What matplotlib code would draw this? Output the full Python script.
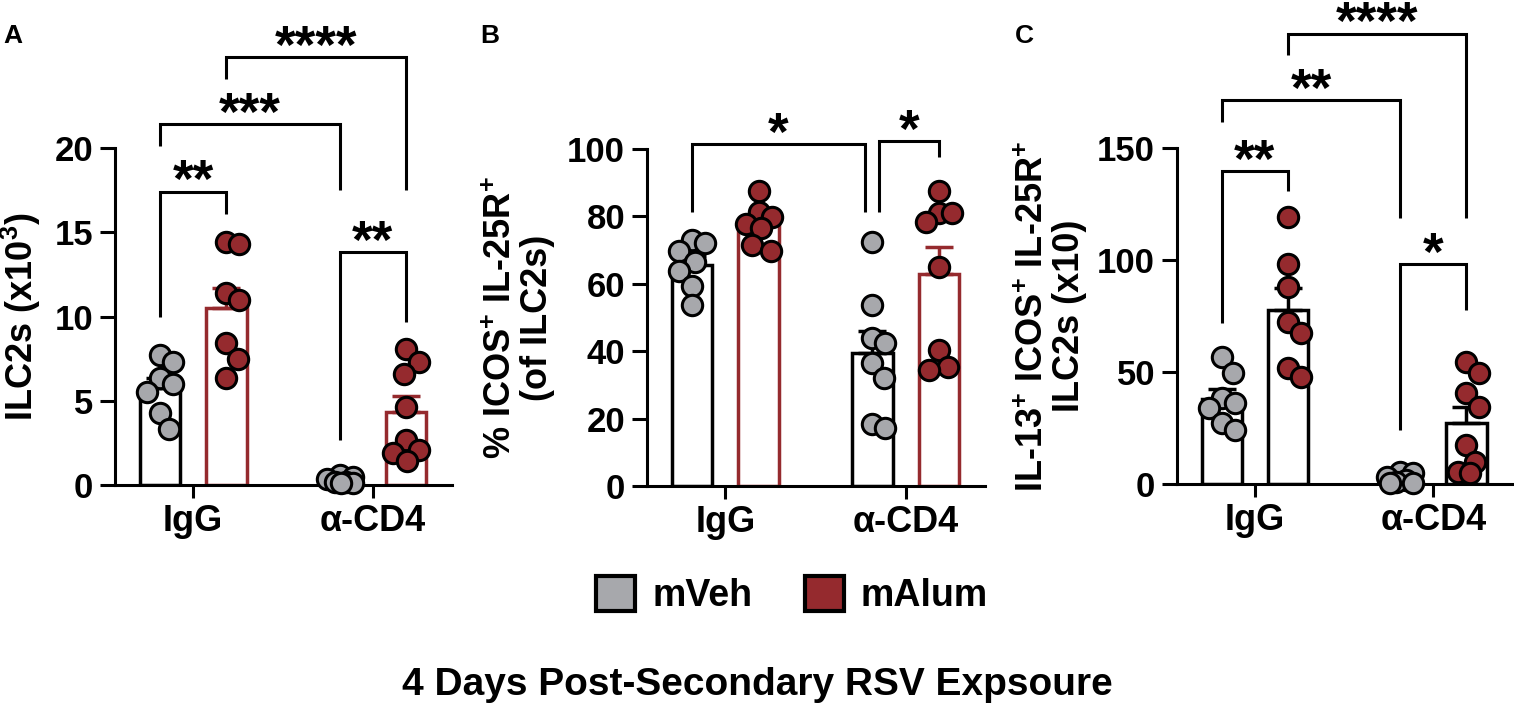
import matplotlib
matplotlib.use("Agg")
import matplotlib.pyplot as plt
from matplotlib.patches import Patch
import numpy as np

plt.rcParams["font.family"] = ["Liberation Sans", "DejaVu Sans"]
plt.rcParams["font.weight"] = "bold"
plt.rcParams["mathtext.fontset"] = "custom"
plt.rcParams["mathtext.rm"] = "Liberation Sans:bold"
plt.rcParams["mathtext.bf"] = "Liberation Sans:bold"
plt.rcParams["mathtext.default"] = "bf"

GRAY = "#a7a8ac"
RED = "#952a2e"

groups = ["IgG", "α-CD4"]
series = ["mVeh", "mAlum"]

# Panel A: ILC2s (x10^3)
a_veh_igg = [7.7, 7.3, 6.35, 6.0, 5.5, 4.3, 3.3]
a_alum_igg = [14.4, 14.3, 11.4, 11.0, 8.4, 7.5, 6.35]
a_veh_cd4 = [0.6, 0.5, 0.35, 0.2, 0.15, 0.1, 0.1]
a_alum_cd4 = [8.1, 7.3, 6.6, 4.6, 2.7, 2.1, 1.9, 1.4]

# Panel B: % ICOS+ IL-25R+ (of ILC2s)
b_veh_igg = [73.0, 72.0, 69.8, 66.5, 63.8, 59.4, 53.7]
b_alum_igg = [87.5, 81.3, 79.8, 77.7, 76.6, 71.5, 69.8]
b_veh_cd4 = [72.4, 53.7, 43.9, 42.4, 36.5, 32.0, 18.4, 17.2]
b_alum_cd4 = [87.5, 81.0, 81.0, 78.3, 65.0, 40.4, 35.3, 34.4]

# Panel C: IL-13+ ICOS+ IL-25R+ ILC2s (x10)
c_veh_igg = [56.7, 49.5, 38.4, 36.0, 33.9, 27.3, 24.1]
c_alum_igg = [119.0, 98.2, 87.9, 72.3, 67.4, 51.8, 47.8]
c_veh_cd4 = [5.5, 5.0, 3.0, 2.0, 1.0, 0.5, 0.5]
c_alum_cd4 = [54.5, 49.5, 40.6, 34.4, 17.4, 9.8, 5.4, 4.9]

# significance brackets: (group, series) left, (group, series) right,
# bar height, left leg end, right leg end, label, x nudges
a_sig = [((0, 0), (0, 1), 17.4, 10.0, 16.1, "**", 0, 0),
         ((0, 0), (1, 0), 21.4, 20.1, 17.5, "***", 0, 0),
         ((0, 1), (1, 1), 25.4, 24.1, 17.5, "****", 0, 0),
         ((1, 0), (1, 1), 13.8, 2.7, 9.7, "**", 0, 0)]
b_sig = [((0, 0), (1, 0), 101.5, 81.3, 81.3, "*", 0, -0.04),
         ((1, 0), (1, 1), 102.4, 81.3, 97.6, "*", 0.035, 0)]
c_sig = [((0, 0), (0, 1), 139.7, 72.0, 131.0, "**", 0, 0),
         ((0, 0), (1, 0), 171.4, 161.6, 118.7, "**", 0, 0),
         ((0, 1), (1, 1), 201.0, 191.5, 118.7, "****", 0, 0),
         ((1, 0), (1, 1), 98.2, 24.0, 77.7, "*", 0, 0)]

OFFSET = 0.185
BAR_W = 0.225
LW = 2.2


def swarm_offsets(ax, xc, vals, min_dist=19.0, max_dx=13):
    """Pixel-space swarm: push each point sideways (within limits) to clear the others."""
    placed = []
    x_px = ax.transData.transform((xc, 0))[0]
    px_per_unit = ax.transData.transform((xc + 1, 0))[0] - x_px
    cands = sorted(range(-max_dx, max_dx + 1), key=lambda d: (abs(d), -d))
    out = []
    for v in vals:
        y_px = ax.transData.transform((xc, v))[1]
        best, best_score = 0, -1.0
        for dx in cands:
            score = min([np.hypot(dx - px, y_px - py) for px, py in placed] + [1e9])
            if score >= min_dist:
                best = dx
                break
            if score > best_score:
                best, best_score = dx, score
        placed.append((best, y_px))
        out.append(xc + best / px_per_unit)
    return out


def draw_panel(rect, data, edge_colors, yticks, ylabel, label_x, sig):
    ax = fig.add_axes(rect)
    ax.set_xlim(-0.435, 1.44)
    ax.set_ylim(0, yticks[-1])
    for g in range(2):
        for s in range(2):
            vals = np.array(data[g][s])
            mean = vals.mean()
            sem = vals.std(ddof=1) / np.sqrt(len(vals))
            xc = g + (OFFSET if s else -OFFSET)
            ec = edge_colors[s]
            ax.bar(xc, mean, width=BAR_W, facecolor="white", edgecolor=ec,
                   linewidth=2.5, zorder=2)
            ax.errorbar(xc, mean, yerr=[[0], [sem]], fmt="none", ecolor=ec,
                        elinewidth=2.5, capsize=10, capthick=2.5, zorder=3)
            xs = swarm_offsets(ax, xc, vals)
            ax.scatter(xs, vals, s=215, facecolor=[GRAY, RED][s], edgecolor="black",
                       linewidths=2.2, zorder=4, clip_on=False)
    for (g1, s1), (g2, s2), top, b1, b2, txt, n1, n2 in sig:
        x1 = g1 + (OFFSET if s1 else -OFFSET) + n1
        x2 = g2 + (OFFSET if s2 else -OFFSET) + n2
        ax.plot([x1, x1, x2, x2], [b1, top, top, b2], color="black", lw=LW,
                clip_on=False, solid_joinstyle="miter", solid_capstyle="butt", zorder=5)
        ax.annotate(txt, xy=((x1 + x2) / 2, top), xytext=(0, -4), textcoords="offset points",
                    ha="center", va="baseline", fontsize=38, fontweight="bold",
                    annotation_clip=False)
    for side in ["top", "right"]:
        ax.spines[side].set_visible(False)
    for side in ["left", "bottom"]:
        ax.spines[side].set_linewidth(LW)
    ax.set_yticks(yticks)
    ax.set_xticks([0, 1])
    ax.set_xticklabels(groups)
    ax.tick_params(axis="y", length=10.8, width=LW, labelsize=25, pad=5)
    ax.tick_params(axis="x", length=9, width=LW, labelsize=26, pad=5)
    ax.set_ylabel(ylabel, fontsize=26, fontweight="bold", linespacing=1.05)
    ax.yaxis.set_label_coords(label_x, 0.5)
    return ax


fig = plt.figure(figsize=(15.14, 7.18), dpi=100)
W, H = 1514, 718

draw_panel([115 / W, (H - 485) / H, 337 / W, 337 / H],
           [[a_veh_igg, a_alum_igg], [a_veh_cd4, a_alum_cd4]],
           ["black", RED], [0, 5, 10, 15, 20], "ILC2s (x10$^{3}$)", -0.214, a_sig)
draw_panel([647 / W, (H - 486) / H, 338 / W, 337 / H],
           [[b_veh_igg, b_alum_igg], [b_veh_cd4, b_alum_cd4]],
           ["black", RED], [0, 20, 40, 60, 80, 100],
           "% ICOS$^{+}$ IL-25R$^{+}$\n(of ILC2s)", -0.272, b_sig)
draw_panel([1177 / W, (H - 484) / H, 335 / W, 336 / H],
           [[c_veh_igg, c_alum_igg], [c_veh_cd4, c_alum_cd4]],
           ["black", "black"], [0, 50, 100, 150],
           "IL-13$^{+}$ ICOS$^{+}$ IL-25R$^{+}$\nILC2s (x10)", -0.269, c_sig)

for lbl, x in [("A", 3), ("B", 480), ("C", 1015)]:
    fig.text(x / W, (H - 43) / H, lbl, fontsize=19, fontweight="bold", va="baseline")

handles = [Patch(facecolor=GRAY, edgecolor="black", linewidth=3),
           Patch(facecolor=RED, edgecolor="black", linewidth=3)]
fig.legend(handles, series, loc="center", bbox_to_anchor=(792 / W, (H - 595) / H),
           ncol=2, frameon=False, handlelength=1.05, handleheight=1.05,
           handletextpad=0.45, columnspacing=1.4, prop={"weight": "bold", "size": 27})

fig.text(757 / W, (H - 695) / H, "4 Days Post-Secondary RSV Expsoure", ha="center",
         va="baseline", fontsize=28, fontweight="bold")

fig.savefig("out.png", dpi=100)
